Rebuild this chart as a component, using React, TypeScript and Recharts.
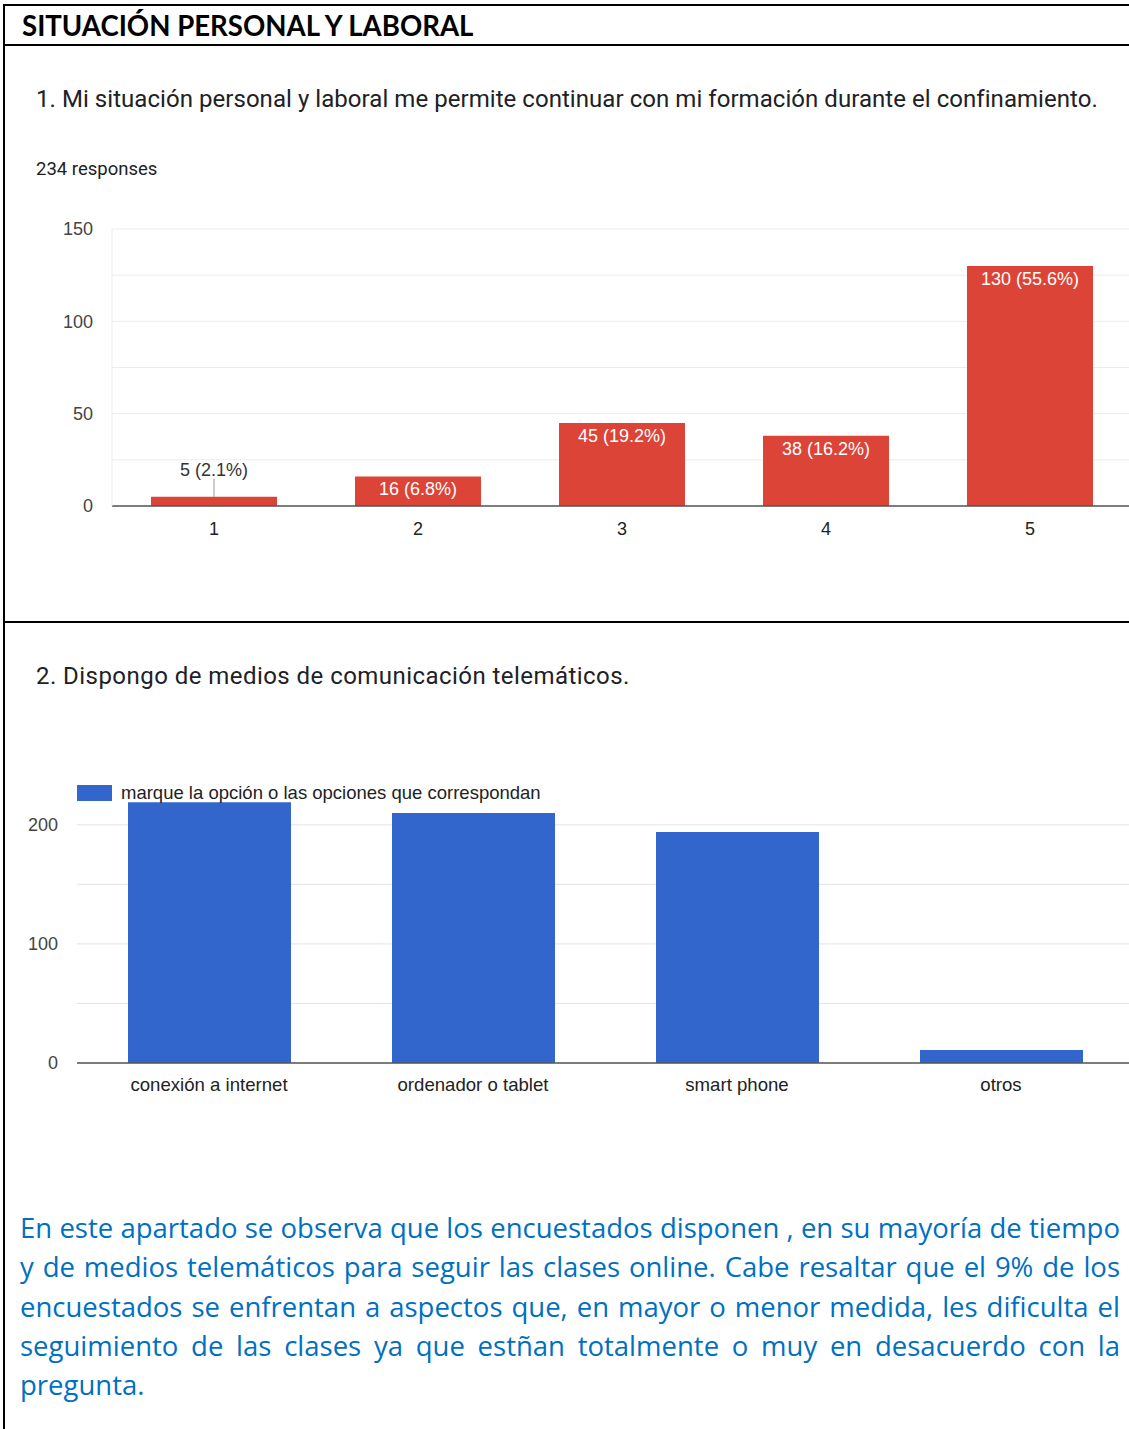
import React from "react";
import { BarChart, Bar, XAxis, YAxis, CartesianGrid, LabelList } from "recharts";

// pregunta 1: escala 1-5
const scaleLabels = ["1", "2", "3", "4", "5"];
const scaleCounts = [5, 16, 45, 38, 130];
const totalResponses = 234;
const scaleTicks = [0, 25, 50, 75, 100, 125, 150];
const scaleTickLabels = [0, 50, 100, 150];

// pregunta 2: medios telemáticos
const deviceLabels = ["conexión a internet", "ordenador o tablet", "smart phone", "otros"];
const deviceCounts = [219, 210, 194, 11];
const deviceTicks = [0, 50, 100, 150, 200];
const deviceTickLabels = [0, 100, 200];
const deviceSeries = "marque la opción o las opciones que correspondan";

const paragraphLines = [
    "En este apartado se observa que los encuestados disponen , en su mayoría de tiempo",
    "y de medios telemáticos para seguir las clases online. Cabe resaltar que el 9% de los",
    "encuestados se enfrentan a aspectos que, en mayor o menor medida, les dificulta el",
    "seguimiento de las clases ya que estñan totalmente o muy en desacuerdo con la",
    "pregunta.",
];

const scaleData = scaleLabels.map((name, i) => ({ name, count: scaleCounts[i] }));
const deviceData = deviceLabels.map((name, i) => ({ name, count: deviceCounts[i] }));

const chartFont = "'Liberation Sans', Arial, sans-serif";
const titleFont = "Roboto, 'Noto Sans', sans-serif";

const ScaleLabel = (props: any) => {
    const { x, y, width, height, value } = props;
    const cx = x + width / 2;
    const pct = ((value / totalResponses) * 100).toFixed(1);
    const text = `${value} (${pct}%)`;
    if (height < 26) {
        return (
            <g>
                <line x1={cx} x2={cx} y1={y - 18} y2={y} stroke="#999" strokeWidth={1} />
                <text x={cx} y={y - 27} textAnchor="middle" dominantBaseline="central" fill="#333" fontSize={18} fontFamily={chartFont}>
                    {text}
                </text>
            </g>
        );
    }
    return (
        <text x={cx} y={y + 13} textAnchor="middle" dominantBaseline="central" fill="#fff" fontSize={18} fontFamily={chartFont}>
            {text}
        </text>
    );
};

// rejilla del segundo gráfico: sin línea en el borde superior
const deviceGridLine = (props: any) => {
    const { x1, x2, y1, y2, index } = props;
    if (y1 < 25) return <g key={`g-${index}`} />;
    return <line key={`g-${index}`} x1={x1} x2={x2} y1={y1} y2={y2} stroke="#e3e3e3" strokeWidth={1} />;
};

export default function App() {
    return (
        <div style={{ position: "fixed", left: 0, top: 0, width: 1129, height: 1429, overflow: "hidden", background: "#fff" }}>
            {/* bordes de la tabla */}
            <div style={{ position: "absolute", left: 3, top: 5, width: 2, height: 1424, background: "#000" }} />
            <div style={{ position: "absolute", left: 3, top: 4, width: 1126, height: 2, background: "#000" }} />
            <div style={{ position: "absolute", left: 3, top: 44, width: 1126, height: 1.5, background: "#000" }} />
            <div style={{ position: "absolute", left: 3, top: 621, width: 1126, height: 2, background: "#000" }} />

            <div style={{ position: "absolute", left: 22, top: 9, fontFamily: "Lato, sans-serif", fontWeight: 700, fontSize: 27.6, color: "#000", whiteSpace: "nowrap" }}>
                SITUACIÓN PERSONAL Y LABORAL
            </div>

            <div style={{ position: "absolute", left: 36, top: 85, fontFamily: titleFont, fontSize: 24, letterSpacing: 0.05, color: "#202124", whiteSpace: "nowrap" }}>
                1. Mi situación personal y laboral me permite continuar con mi formación durante el confinamiento.
            </div>
            <div style={{ position: "absolute", left: 36, top: 158, fontFamily: titleFont, fontSize: 18.5, color: "#202124", whiteSpace: "nowrap" }}>
                {totalResponses} responses
            </div>

            <div style={{ position: "absolute", left: 0, top: 200 }}>
                <BarChart width={1140} height={346} data={scaleData} margin={{ top: 29, right: 8, left: 52, bottom: 0 }}>
                    <CartesianGrid vertical={false} stroke="#ebebeb" />
                    <XAxis
                        dataKey="name"
                        height={40}
                        tickLine={false}
                        tickSize={0}
                        tickMargin={16}
                        axisLine={{ stroke: "#555", strokeWidth: 1.5 }}
                        tick={{ fill: "#222", fontSize: 18, fontFamily: chartFont }}
                    />
                    <YAxis
                        width={60}
                        domain={[0, 150]}
                        ticks={scaleTicks}
                        interval={0}
                        tickLine={false}
                        tickSize={0}
                        tickMargin={19}
                        axisLine={{ stroke: "#ebebeb" }}
                        tickFormatter={(v) => (scaleTickLabels.includes(v) ? `${v}` : "")}
                        tick={{ fill: "#444", fontSize: 18, fontFamily: chartFont }}
                    />
                    <Bar dataKey="count" fill="#db4437" barSize={126} isAnimationActive={false}>
                        <LabelList dataKey="count" content={<ScaleLabel />} />
                    </Bar>
                </BarChart>
            </div>

            <div style={{ position: "absolute", left: 36, top: 662, fontFamily: titleFont, fontSize: 24, letterSpacing: 0.45, color: "#202124", whiteSpace: "nowrap" }}>
                2. Dispongo de medios de comunicación telemáticos.
            </div>

            <div style={{ position: "absolute", left: 0, top: 780 }}>
                <BarChart width={1140} height={323} data={deviceData} margin={{ top: 21, right: 7, left: 27, bottom: 0 }}>
                    <CartesianGrid vertical={false} horizontal={deviceGridLine} />
                    <XAxis
                        dataKey="name"
                        height={40}
                        tickLine={false}
                        tickSize={0}
                        tickMargin={15}
                        axisLine={{ stroke: "#555", strokeWidth: 1.5 }}
                        tick={{ fill: "#222", fontSize: 18.6, fontFamily: chartFont }}
                    />
                    <YAxis
                        width={50}
                        domain={[0, 220]}
                        ticks={deviceTicks}
                        interval={0}
                        tickLine={false}
                        tickSize={0}
                        tickMargin={19}
                        axisLine={false}
                        tickFormatter={(v) => (deviceTickLabels.includes(v) ? `${v}` : "")}
                        tick={{ fill: "#444", fontSize: 18, fontFamily: chartFont }}
                    />
                    <Bar dataKey="count" name={deviceSeries} fill="#3366cc" barSize={163} isAnimationActive={false} />
                </BarChart>
            </div>

            {/* leyenda */}
            <div style={{ position: "absolute", left: 77, top: 785, display: "flex", alignItems: "center", fontFamily: chartFont, fontSize: 18.5, color: "#222", whiteSpace: "nowrap" }}>
                <span style={{ display: "inline-block", width: 35, height: 16, background: "#3366cc", marginRight: 9 }} />
                <span style={{ lineHeight: "16px" }}>{deviceSeries}</span>
            </div>

            <div style={{ position: "absolute", left: 20, top: 1208, width: 1100, fontFamily: "'Open Sans', sans-serif", fontSize: 27.5, color: "#0070c0", lineHeight: "39.3px" }}>
                {paragraphLines.map((line, i) => (
                    <div
                        key={i}
                        style={{
                            whiteSpace: "nowrap",
                            textAlign: i < paragraphLines.length - 1 ? "justify" : "left",
                            textAlignLast: i < paragraphLines.length - 1 ? "justify" : "left",
                        }}
                    >
                        {line}
                    </div>
                ))}
            </div>
        </div>
    );
}
